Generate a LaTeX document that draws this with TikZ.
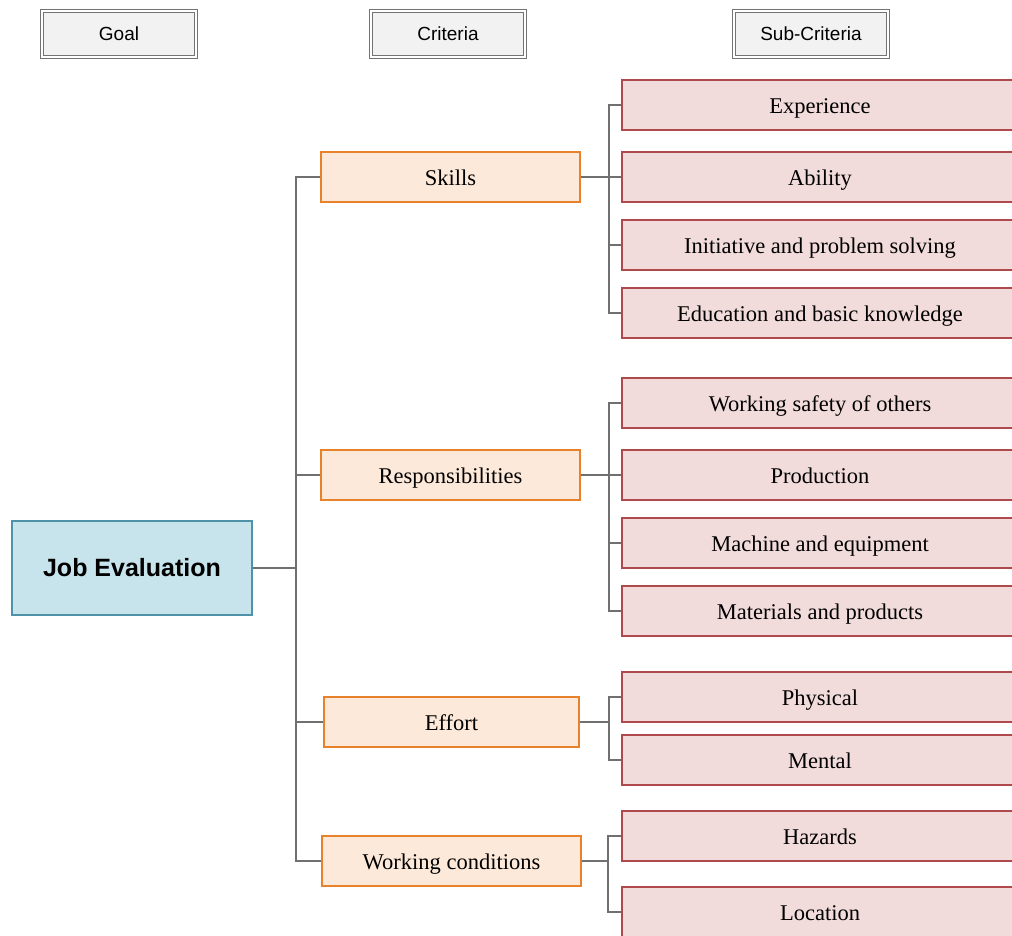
\documentclass[tikz,border=0pt]{standalone}
\usepackage{fontspec}
\setmainfont{Liberation Serif}
\newfontfamily\arialfont{Liberation Sans}
\definecolor{subfill}{HTML}{F2DCDB}
\definecolor{subline}{HTML}{B0494B}
\definecolor{critfill}{HTML}{FDE9D9}
\definecolor{critline}{HTML}{E8822A}
\definecolor{goalfill}{HTML}{C7E3EC}
\definecolor{goalline}{HTML}{4F93A8}
\definecolor{hdrfill}{HTML}{F2F2F2}
\definecolor{linkgray}{HTML}{707070}

\begin{document}
\begin{tikzpicture}[x=1pt,y=-1pt,
  hdr/.style={draw=gray!90!black,fill=hdrfill,double=white,double distance=2.4pt,line width=1pt,
    minimum width=154pt,minimum height=46pt,inner sep=0pt,font=\arialfont\fontsize{19}{22}\selectfont},
  goal/.style={draw=goalline,fill=goalfill,line width=1.2pt,minimum width=240pt,minimum height=94pt,
    inner sep=0pt,font=\arialfont\bfseries\fontsize{25}{29}\selectfont},
  crit/.style={draw=critline,fill=critfill,line width=1.6pt,minimum width=259pt,minimum height=50pt,
    inner sep=0pt,text height=17pt,text depth=0pt,font=\fontsize{22.5}{26}\selectfont},
  sub/.style={draw=subline,fill=subfill,line width=1.4pt,minimum width=396pt,minimum height=50pt,
    inner sep=0pt,text height=17pt,text depth=0pt,font=\fontsize{22.5}{26}\selectfont},
  link/.style={draw=linkgray,line width=1.4pt}]
\clip (0,0) rectangle (1012,935);
\fill[white] (0,0) rectangle (1012,935);

% headers
\node[hdr] (hgoal) at (119,34) {Goal};
\node[hdr] (hcrit) at (448,34) {Criteria};
\node[hdr] (hsub) at (811,34) {Sub-Criteria};

% goal
\node[goal] (job) at (132,568) {Job Evaluation};

% criteria
\node[crit] (skills) at (450.5,177) {Skills};
\node[crit] (resp) at (450.5,475) {Responsibilities};
\node[crit,minimum width=255pt] (effort) at (451.5,722) {Effort};
\node[crit] (work) at (451.5,861) {Working conditions};

% sub-criteria
\node[sub] (exp) at (820,105) {Experience};
\node[sub] (abil) at (820,177) {Ability};
\node[sub] (init) at (820,245) {Initiative and problem solving};
\node[sub] (edu) at (820,313) {Education and basic knowledge};
\node[sub] (safe) at (820,403) {Working safety of others};
\node[sub] (prod) at (820,475) {Production};
\node[sub] (mach) at (820,543) {Machine and equipment};
\node[sub] (mat) at (820,611) {Materials and products};
\node[sub] (phys) at (820,697) {Physical};
\node[sub] (ment) at (820,760) {Mental};
\node[sub] (haz) at (820,836) {Hazards};
\node[sub] (loc) at (820,912) {Location};

% connectors
\coordinate (trunk) at (296,568);
\coordinate (skbus) at (609,177);
\coordinate (rebus) at (609,475);
\coordinate (efbus) at (609,722);
\coordinate (wobus) at (608,861);

\draw[link] (job.east) -- (trunk);
\draw[link] (skills.west) -| (trunk) |- (work.west);
\draw[link] (resp.west) -- (resp.west -| trunk);
\draw[link] (effort.west) -- (effort.west -| trunk);

\draw[link] (skills.east) -- (skbus);
\draw[link] (exp.west) -| (skbus) |- (edu.west);
\draw[link] (abil.west) -- (abil.west -| skbus);
\draw[link] (init.west) -- (init.west -| skbus);

\draw[link] (resp.east) -- (rebus);
\draw[link] (safe.west) -| (rebus) |- (mat.west);
\draw[link] (prod.west) -- (prod.west -| rebus);
\draw[link] (mach.west) -- (mach.west -| rebus);

\draw[link] (effort.east) -- (efbus);
\draw[link] (phys.west) -| (efbus) |- (ment.west);

\draw[link] (work.east) -- (wobus);
\draw[link] (haz.west) -| (wobus) |- (loc.west);
\end{tikzpicture}
\end{document}
